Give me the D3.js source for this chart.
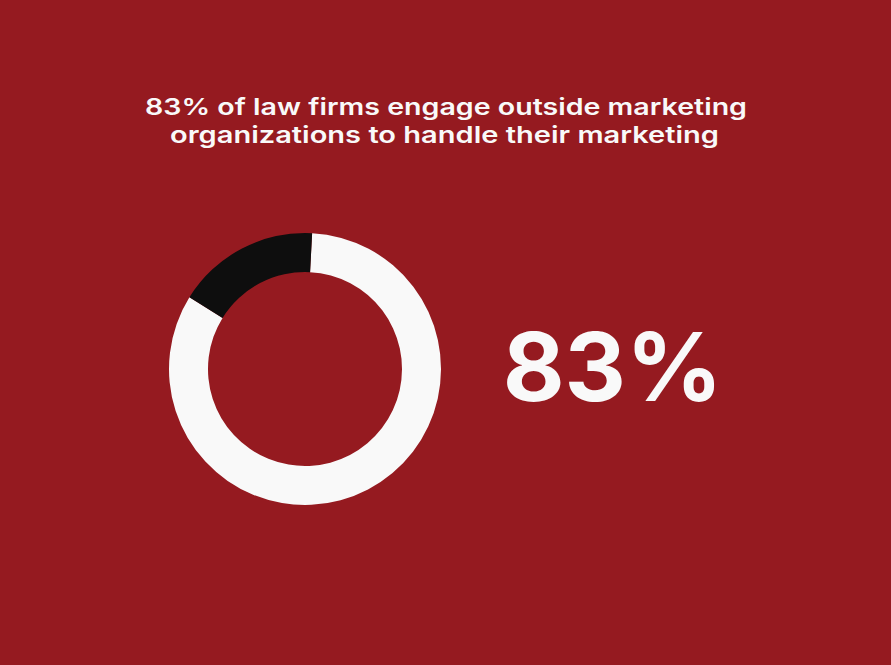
<!DOCTYPE html>
<html><head><meta charset="utf-8">
<script src="https://cdn.jsdelivr.net/npm/d3@7"></script>
<style>html,body{margin:0;padding:0;background:#951a20;overflow:hidden}</style>
</head><body>
<svg id="chart" width="891" height="665"></svg>
<script>
const titleLines = ["83% of law firms engage outside marketing", "organizations to handle their marketing"];
const categories = ["Engage outside marketing organizations", "Other"];
const values = [83, 17];
const bigLabel = "83%";

const colors = ["#f9f9f9", "#0e0e0e"];
const svg = d3.select("#chart");
svg.append("rect").attr("width", 891).attr("height", 665).attr("fill", "#951a20");

const cx = 305, cy = 369, rOuter = 136, rInner = 97;
const start = 3 * Math.PI / 180;
const pie = d3.pie().sort(null).startAngle(start).endAngle(start + 2 * Math.PI);
const arc = d3.arc().innerRadius(rInner).outerRadius(rOuter);
const g = svg.append("g").attr("transform", `translate(${cx},${cy})`);
g.selectAll("path").data(pie(values)).join("path")
  .attr("d", arc).attr("fill", (d, i) => colors[i]);

// Title
const tTargets = [{x: 446, y: 115, w: 602}, {x: 444.5, y: 143, w: 549}];
titleLines.forEach((line, i) => {
  svg.append("text").attr("x", tTargets[i].x).attr("y", tTargets[i].y)
    .attr("text-anchor", "middle").attr("fill", "#f9f9f9")
    .style("font-family", "Inter, 'Open Sans', sans-serif").style("font-weight", 600)
    .style("font-size", "23px")
    .attr("textLength", tTargets[i].w).attr("lengthAdjust", "spacingAndGlyphs")
    .text(line);
});

// Big number
svg.append("text").attr("x", 502.7).attr("y", 400.7)
  .attr("fill", "#f9f9f9")
  .style("font-family", "Inter, 'Open Sans', sans-serif").style("font-weight", 700)
  .style("font-size", "95px")
  .attr("textLength", 220).attr("lengthAdjust", "spacingAndGlyphs")
  .text(bigLabel);
</script>
</body></html>
